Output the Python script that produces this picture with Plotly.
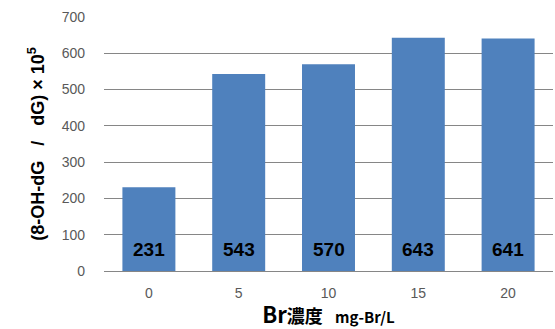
import plotly.graph_objects as go

# Br concentration (mg-Br/L) and 8-OH-dG / dG ratio (x10^5)
concentrations = ["0", "5", "10", "15", "20"]
ratio_values = [231, 543, 570, 643, 641]
y_ticks = [0, 100, 200, 300, 400, 500, 600, 700]

bar_color = "#4F81BD"
grid_color = "#868686"
tick_color = "#595959"
font_family = "Liberation Sans, Arial, sans-serif"

fig = go.Figure()
fig.add_trace(go.Bar(
    x=concentrations,
    y=ratio_values,
    marker=dict(color=bar_color, line=dict(width=0)),
    hoverinfo="x+y",
))

# Value labels sitting near the base of each bar (category index positions)
for idx, val in enumerate(ratio_values):
    fig.add_annotation(
        x=idx, y=0, text=f"<b>{val}</b>",
        xref="x", yref="y", yanchor="bottom", yshift=9,
        showarrow=False,
        font=dict(family=font_family, size=19, color="#000000"),
    )

fig.update_layout(
    width=555, height=329,
    margin=dict(l=104, r=2, t=17, b=58),
    paper_bgcolor="white", plot_bgcolor="white",
    bargap=0.41,
    showlegend=False,
    font=dict(family=font_family),
    xaxis=dict(
        type="category",
        range=[-0.5, len(concentrations) - 0.5],
        showgrid=False, showline=False, zeroline=False,
        ticks="", tickfont=dict(size=14, color=tick_color),
        ticklabelstandoff=12,
        title=dict(
            text="<b><span style='font-size:22px'>Br</span>濃度   "
                 "<span style='font-size:15px'>mg-Br/L</span></b>",
            font=dict(family="Noto Sans CJK JP, Liberation Sans, sans-serif", size=18, color="#000000"),
            standoff=6,
        ),
    ),
    yaxis=dict(
        range=[0, 700],
        tickvals=y_ticks,
        showgrid=True, gridcolor=grid_color, gridwidth=1,
        zeroline=True, zerolinecolor=grid_color, zerolinewidth=1,
        showline=False, ticks="",
        tickfont=dict(size=14, color=tick_color),
        ticklabelstandoff=18,
        title=dict(
            text="<b>(8-OH-dG   /   dG) × 10<sup>5</sup></b>",
            font=dict(family=font_family, size=18, color="#000000"),
            standoff=12,
        ),
    ),
)

fig.write_html("out.html")
